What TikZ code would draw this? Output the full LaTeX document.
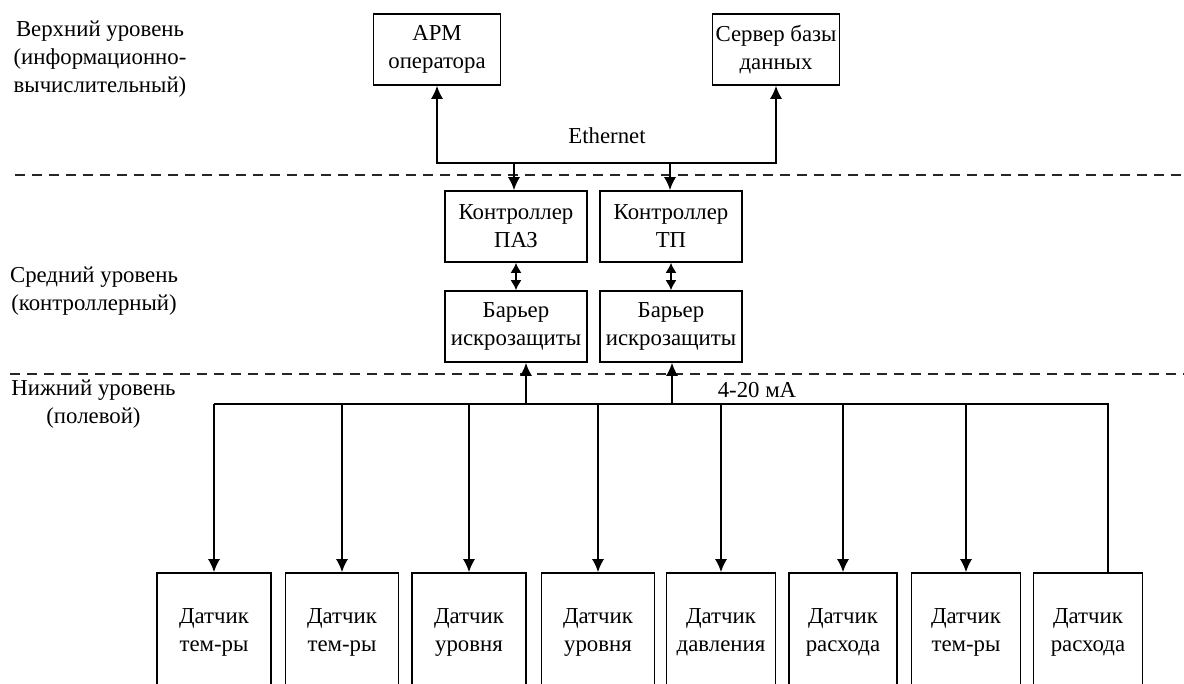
\documentclass[tikz,border=0pt]{standalone}
\usepackage{fontspec}
\setmainfont{Liberation Serif}
\usetikzlibrary{arrows.meta}
\begin{document}
\begin{tikzpicture}[x=1pt,y=-1pt,
  every node/.style={font=\fontsize{22.8}{28}\selectfont},
  box/.style={draw, line width=1.6pt, inner sep=0pt, align=center},
  topbox/.style={box, minimum width=127pt, minimum height=71pt},
  midbox/.style={box, minimum width=142pt, minimum height=71pt},
  sensbox/.style={box, minimum height=119pt},
  conn/.style={line width=1.6pt},
  tip/.style={},
  arr/.style={conn, -{Latex[length=13pt,width=12pt]}},
  darr/.style={conn, {Latex[length=10pt,width=11pt]}-{Latex[length=10pt,width=11pt]}},
  levelsep/.style={line width=2.8pt, dash pattern=on 10pt off 7pt, color=black!85},
  lvl/.style={align=center, inner sep=0pt}]
\useasboundingbox (0,0) rectangle (1184,684);
\clip (0,0) rectangle (1184,684);
\fill[white] (0,0) rectangle (1184,684);

% level labels
\node[lvl] (lvtop) at (100,59) {Верхний уровень\\(информационно-\\вычислительный)};
\node[lvl] (lvmid) at (94,291.5) {Средний уровень\\(контроллерный)};
\node[lvl] (lvbot) at (93.5,404.5) {Нижний уровень\\(полевой)};

% separators
\coordinate (d1a) at (15,175);
\coordinate (d1b) at (1184,175);
\coordinate (d2a) at (10,374);
\coordinate (d2b) at (1184,374);
\draw[levelsep] (d1a) -- (d1b);
\draw[levelsep] (d2a) -- (d2b);

% top level
\node[topbox] (apm) at (437,49.5) {АРМ\\оператора};
\node[topbox] (srv) at (776,49.5) {Сервер базы\\данных};
\node[inner sep=0pt] (eth) at (607,136) {Ethernet};

% middle level
\node[midbox] (paz) at (516,226.5) {Контроллер\\ПАЗ};
\node[midbox] (tp) at (671,226.5) {Контроллер\\ТП};
\node[midbox] (b1) at (516,326.5) {Барьер\\искрозащиты};
\node[midbox] (b2) at (671,326.5) {Барьер\\искрозащиты};

% Ethernet bus
\coordinate (ebus) at (607,163);
\coordinate (e1) at (514,163);
\coordinate (e2) at (670,163);
\draw[conn, {Latex[length=13pt,width=12pt]}-{Latex[length=13pt,width=12pt]}] (apm.south) |- (ebus) -| (srv.south);
\draw[arr] (e1) -- (e1 |- paz.north);
\draw[arr] (e2) -- (e2 |- tp.north);

% controller <-> barrier
\draw[darr] (paz.south) -- (b1.north);
\draw[darr] (tp.south) -- (b2.north);

% sensors
\node[sensbox, minimum width=114pt] (s1) at (214,632.5) {Датчик\\тем-ры};
\node[sensbox, minimum width=113pt] (s2) at (342,632.5) {Датчик\\тем-ры};
\node[sensbox, minimum width=114pt] (s3) at (469,632.5) {Датчик\\уровня};
\node[sensbox, minimum width=113pt] (s4) at (598,632.5) {Датчик\\уровня};
\node[sensbox, minimum width=109pt] (s5) at (721,632.5) {Датчик\\давления};
\node[sensbox, minimum width=108pt] (s6) at (843,632.5) {Датчик\\расхода};
\node[sensbox, minimum width=109pt] (s7) at (966,632.5) {Датчик\\тем-ры};
\node[sensbox, minimum width=109pt] (s8) at (1088,632.5) {Датчик\\расхода};

% 4-20 mA bus
\node[inner sep=0pt] (ma) at (757,390) {4-20 мА};
\coordinate (bus) at (214,404);
\coordinate (busend) at (1108,404);
\coordinate (u1) at (526,404);
\coordinate (u2) at (672,404);
\draw[conn] (s1.north |- bus) -- (busend) -- (busend |- s8.north);
\draw[arr] (u1) -- (u1 |- b1.south);
\draw[arr] (u2) -- (u2 |- b2.south);
\foreach \s in {s1,s2,s3,s4,s5,s6,s7}{
  \draw[arr] (\s.north |- bus) -- (\s.north);
}
\end{tikzpicture}
\end{document}
